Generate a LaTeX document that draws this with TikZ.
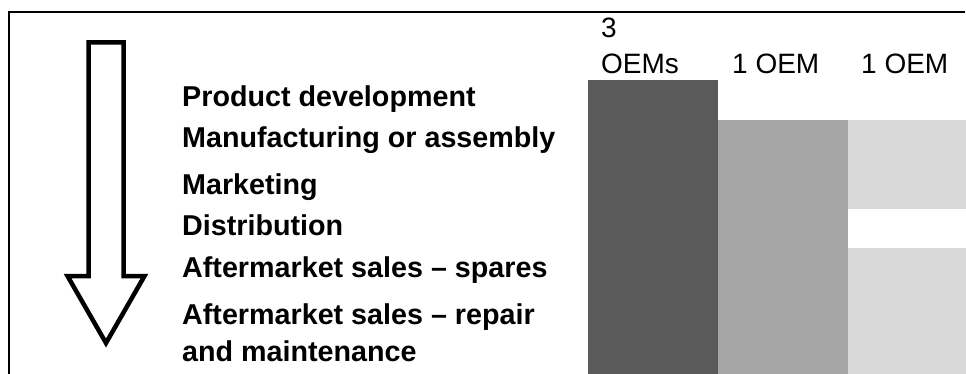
\documentclass[tikz,border=0pt]{standalone}
\usepackage{fontspec}
\setmainfont{Liberation Sans}
\begin{document}
\begin{tikzpicture}[x=1pt,y=-1pt,
  steplabel/.style={anchor=base west,inner sep=0pt,font=\fontsize{28.7}{33}\selectfont\bfseries},
  oemlabel/.style={anchor=base west,inner sep=0pt,font=\fontsize{28}{36}\selectfont,align=left},
  bar/.style={draw=none}]
\useasboundingbox (0,0) rectangle (966,374);
\fill[white] (0,0) rectangle (966,374);
% frame
\draw[line width=2.5pt] (9,374) -- (9,12) -- (965,12);
% arrow
\draw[line width=4.5pt,miter limit=10,line join=miter,fill=white]
  (88.5,42.5) -- (123.5,42.5) -- (123.5,276) -- (144.5,276) -- (106,343)
  -- (67.5,276) -- (88.5,276) -- cycle;
% bars
\fill[bar,fill={rgb,255:red,90;green,90;blue,90}] (588,80) rectangle (718,374);
\fill[bar,fill={rgb,255:red,166;green,166;blue,166}] (718,120) rectangle (848,374);
\fill[bar,fill={rgb,255:red,217;green,217;blue,217}] (848,120) rectangle (966,209);
\fill[bar,fill={rgb,255:red,217;green,217;blue,217}] (848,248) rectangle (966,374);
% step labels
\node[steplabel] (s1) at (182,107) {Product development};
\node[steplabel] (s2) at (182,147.5) {Manufacturing or assembly};
\node[steplabel] (s3) at (182,195) {Marketing};
\node[steplabel] (s4) at (182,235) {Distribution};
\node[steplabel] (s5) at (182,277) {Aftermarket sales – spares};
\node[steplabel] (s6) at (182,324) {Aftermarket sales – repair};
\node[steplabel] (s7) at (182,361) {and maintenance};
% OEM labels
\node[oemlabel] (o0) at (601,38) {3};
\node[oemlabel] (o1) at (601,74) {OEMs};
\node[oemlabel] (o2) at (732,74) {1 OEM};
\node[oemlabel] (o3) at (861,74) {1 OEM};
\end{tikzpicture}
\end{document}
